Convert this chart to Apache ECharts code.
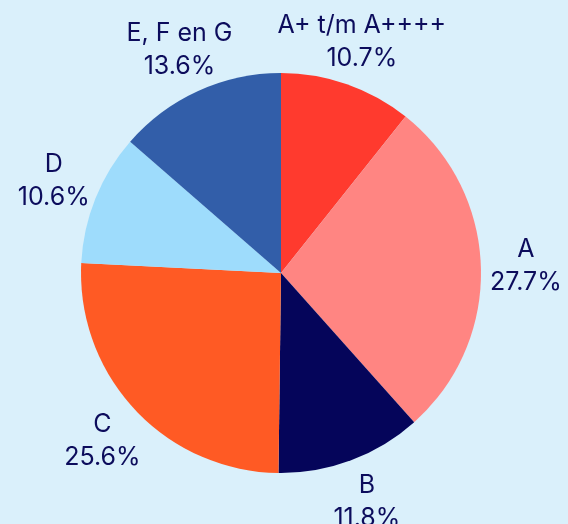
<!DOCTYPE html>
<html>
<head>
<meta charset="utf-8">
<style>
html,body{margin:0;padding:0;background:#daf0fb;}
#chart{width:568px;height:524px;}
</style>
<script src="https://cdn.jsdelivr.net/npm/echarts@6/dist/echarts.min.js"></script>
</head>
<body>
<div id="chart"></div>
<script>
const categories = ["A+ t/m A++++", "A", "B", "C", "D", "E, F en G"];
const values = [10.7, 27.7, 11.8, 25.6, 10.6, 13.6];
const colors = ["#ff3a2e", "#ff8582", "#05055a", "#ff5a24", "#9edcfc", "#325ea9"];

const chart = echarts.init(document.getElementById('chart'), null, {renderer: 'canvas'});
const pieData = categories.map((c, i) => ({name: c, value: values[i], itemStyle: {color: colors[i]}}));
const labelData = categories.map((c, i) => ({name: c, value: values[i]}));

chart.setOption({
  backgroundColor: '#daf0fb',
  animation: false,
  series: [
    {
      type: 'pie',
      center: [281, 273],
      radius: [0, 200],
      startAngle: 90,
      clockwise: true,
      data: pieData,
      label: {show: false},
      labelLine: {show: false},
      itemStyle: {borderWidth: 0},
      emphasis: {disabled: true}
    },
    {
      type: 'pie',
      center: [281, 273],
      radius: [200, 284],
      startAngle: 90,
      clockwise: true,
      silent: true,
      data: labelData,
      itemStyle: {color: 'rgba(0,0,0,0)', borderWidth: 0},
      label: {
        show: true,
        position: 'inside',
        formatter: p => p.name + '\n' + p.value.toFixed(1) + '%',
        color: '#0c0c5c',
        fontFamily: 'Inter',
        fontSize: 25,
        lineHeight: 33,
        align: 'center'
      },
      labelLine: {show: false},
      emphasis: {disabled: true}
    }
  ]
});
</script>
</body>
</html>
